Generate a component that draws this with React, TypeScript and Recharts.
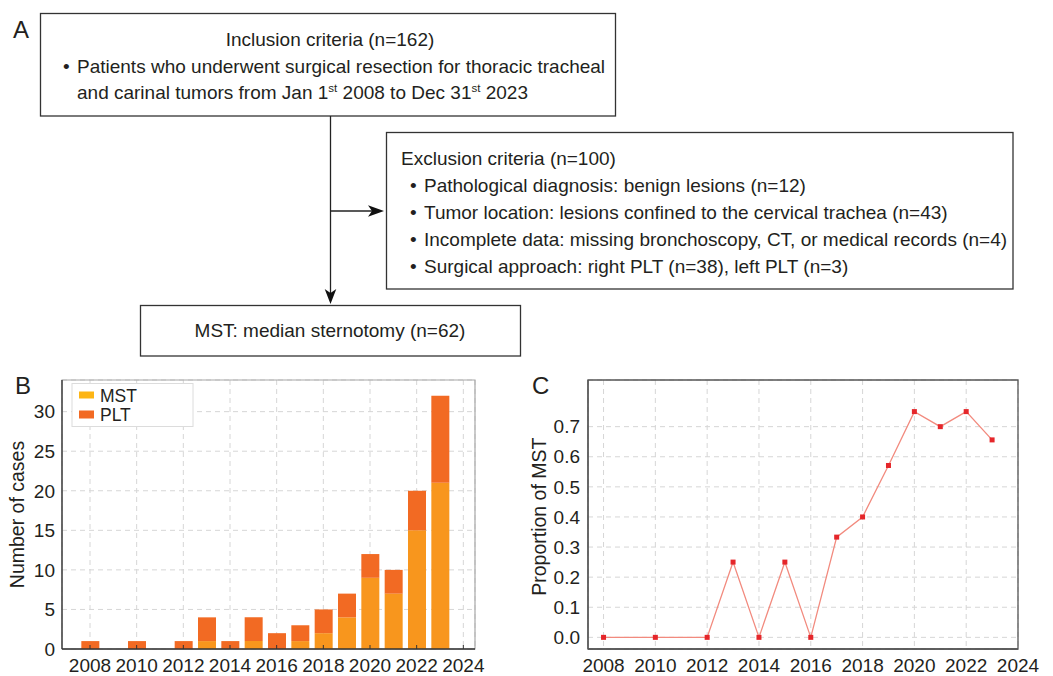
import React from "react";
import {
    BarChart,
    Bar,
    LineChart,
    Line,
    XAxis,
    YAxis,
    CartesianGrid,
    ReferenceArea,
} from "recharts";

// values
const years = [2008, 2010, 2012, 2013, 2014, 2015, 2016, 2017, 2018, 2019, 2020, 2021, 2022, 2023];
const mstCases = [0, 0, 0, 1, 0, 1, 0, 1, 2, 4, 9, 7, 15, 21];
const pltCases = [1, 1, 1, 3, 1, 3, 2, 2, 3, 3, 3, 3, 5, 11];
const mstProportion = [0, 0, 0, 0.25, 0, 0.25, 0, 0.333, 0.4, 0.571, 0.75, 0.7, 0.75, 0.656];

const yearTicks = [2008, 2010, 2012, 2014, 2016, 2018, 2020, 2022, 2024];
const caseTicks = [0, 5, 10, 15, 20, 25, 30];
const proportionTicks = [0, 0.1, 0.2, 0.3, 0.4, 0.5, 0.6, 0.7];
const seriesNames = ["MST", "PLT"];

const exclusionItems = [
    "Pathological diagnosis: benign lesions (n=12)",
    "Tumor location: lesions confined to the cervical trachea (n=43)",
    "Incomplete data: missing bronchoscopy, CT, or medical records (n=4)",
    "Surgical approach: right PLT (n=38), left PLT (n=3)",
];

const FONT = '"Liberation Sans", Arial, Helvetica, sans-serif';
const INK = "#231f20";
const MST_COLOR = "#f8961d";
const MST_LEGEND = "#fdb515";
const PLT_COLOR = "#f26a23";
const TICK_SIZE = 19;
const BOX_TEXT = 19;

const caseData = years.map((year, i) => ({ year, mst: mstCases[i], plt: pltCases[i] }));
const propData = years.map((year, i) => ({ year, proportion: mstProportion[i] }));

const B_X: [number, number] = [2006.8, 2024.5];
const B_Y: [number, number] = [0, 34];
const C_X: [number, number] = [2007.4, 2024];
const C_Y: [number, number] = [-0.0387, 0.855];

function yearTick(props: any, withMark: boolean) {
    const { x, y, payload } = props;
    return (
        <g>
            {withMark && <line x1={x} x2={x} y1={y - 4} y2={y} stroke="#333" strokeWidth={1} />}
            <text x={x} y={y + 23} textAnchor="middle" fontSize={TICK_SIZE} fill={INK} fontFamily={FONT}>
                {payload.value}
            </text>
        </g>
    );
}

function squareDot(props: any) {
    const { cx, cy, index } = props;
    return <rect key={"d" + index} x={cx - 2.5} y={cy - 2.5} width={5} height={5} fill="#e5262a" />;
}

function CasesChart() {
    return (
        <BarChart
            width={500}
            height={306}
            data={caseData}
            margin={{ top: 10, right: 25, left: 22, bottom: 0 }}
            barSize={18}
        >
            <CartesianGrid stroke="#d6d6d6" strokeDasharray="5 4" />
            <ReferenceArea
                x1={B_X[0]}
                x2={B_X[1]}
                y1={B_Y[0]}
                y2={B_Y[1]}
                fill="none"
                stroke="#a8a8a8"
                strokeWidth={1.2}
                ifOverflow="visible"
            />
            <XAxis
                type="number"
                dataKey="year"
                domain={B_X}
                ticks={yearTicks}
                interval={0}
                allowDataOverflow
                height={27}
                tickSize={0}
                tickMargin={0}
                tickLine={false}
                axisLine={{ stroke: "#333", strokeWidth: 1.3 }}
                tick={(p: any) => yearTick(p, true)}
            />
            <YAxis
                domain={B_Y}
                ticks={caseTicks}
                interval={0}
                allowDataOverflow
                width={40}
                tickSize={0}
                tickMargin={7}
                tickLine={false}
                axisLine={{ stroke: "#333", strokeWidth: 1.3 }}
                tick={{ fontSize: TICK_SIZE, fill: INK, fontFamily: FONT }}
            />
            <Bar dataKey="mst" name={seriesNames[0]} stackId="a" fill={MST_COLOR} isAnimationActive={false} />
            <Bar dataKey="plt" name={seriesNames[1]} stackId="a" fill={PLT_COLOR} isAnimationActive={false} />
        </BarChart>
    );
}

function ProportionChart() {
    return (
        <LineChart
            width={533}
            height={306}
            data={propData}
            margin={{ top: 10, right: 35, left: 18, bottom: 0 }}
        >
            <CartesianGrid stroke="#d6d6d6" strokeDasharray="5 4" />
            <ReferenceArea
                x1={C_X[0]}
                x2={C_X[1]}
                y1={C_Y[0]}
                y2={C_Y[1]}
                fill="none"
                stroke="#555"
                strokeWidth={1.3}
                ifOverflow="visible"
            />
            <XAxis
                type="number"
                dataKey="year"
                domain={C_X}
                ticks={yearTicks}
                interval={0}
                allowDataOverflow
                height={27}
                tickSize={0}
                tickMargin={0}
                tickLine={false}
                axisLine={{ stroke: "#555", strokeWidth: 1.3 }}
                tick={(p: any) => yearTick(p, false)}
            />
            <YAxis
                domain={C_Y}
                ticks={proportionTicks}
                interval={0}
                allowDataOverflow
                width={50}
                tickSize={0}
                tickMargin={8}
                tickLine={false}
                axisLine={{ stroke: "#555", strokeWidth: 1.3 }}
                tickFormatter={(v: number) => v.toFixed(1)}
                tick={{ fontSize: TICK_SIZE, fill: INK, fontFamily: FONT }}
            />
            <Line
                dataKey="proportion"
                stroke="#f28a7e"
                strokeWidth={1.3}
                dot={squareDot}
                activeDot={false}
                isAnimationActive={false}
            />
        </LineChart>
    );
}

function Flowchart() {
    const box = { fill: "none", stroke: "#333", strokeWidth: 1.3 };
    return (
        <g fontFamily={FONT} fontSize={BOX_TEXT} fill={INK}>
            {/* inclusion */}
            <rect x={40.5} y={13.5} width={575} height={102.5} {...box} />
            <text x={330} y={46} textAnchor="middle">Inclusion criteria (n=162)</text>
            <text x={63} y={73}>•</text>
            <text x={77} y={73}>Patients who underwent surgical resection for thoracic tracheal</text>
            <text x={77} y={99}>
                and carinal tumors from Jan 1
                <tspan dy={-7.5} fontSize={11.5}>st</tspan>
                <tspan dy={7.5}> 2008 to Dec 31</tspan>
                <tspan dy={-7.5} fontSize={11.5}>st</tspan>
                <tspan dy={7.5}> 2023</tspan>
            </text>

            {/* connectors */}
            <line x1={330.5} x2={330.5} y1={116} y2={294} stroke="#222" strokeWidth={1.3} />
            <polygon points="330.5,304 324.7,289 330.5,293 336.3,289" fill="#111" />
            <line x1={330.5} x2={374} y1={211} y2={211} stroke="#222" strokeWidth={1.3} />
            <polygon points="384,211 368,205.2 372,211 368,216.8" fill="#111" />

            {/* exclusion */}
            <rect x={386.5} y={132.5} width={626.5} height={156.5} {...box} />
            <text x={401} y={165}>Exclusion criteria (n=100)</text>
            {exclusionItems.map((t, i) => (
                <g key={t}>
                    <text x={410} y={192 + i * 27}>•</text>
                    <text x={424} y={192 + i * 27}>{t}</text>
                </g>
            ))}

            {/* result */}
            <rect x={140.5} y={305.5} width={380} height={50.5} {...box} />
            <text x={330} y={337} textAnchor="middle">MST: median sternotomy (n=62)</text>
        </g>
    );
}

export default function App() {
    return (
        <div
            style={{
                position: "fixed",
                left: 0,
                top: 0,
                width: 1053,
                height: 676,
                background: "#fff",
                fontFamily: FONT,
                overflow: "hidden",
            }}
        >
            <div style={{ position: "absolute", left: 0, top: 370 }}>
                <CasesChart />
            </div>
            <div style={{ position: "absolute", left: 520, top: 370 }}>
                <ProportionChart />
            </div>
            <svg
                width={1053}
                height={676}
                style={{ position: "absolute", left: 0, top: 0, pointerEvents: "none" }}
            >
                <Flowchart />

                {/* panel letters */}
                <g fontFamily={FONT} fontSize={24} fill={INK}>
                    <text x={13} y={38}>A</text>
                    <text x={15} y={394}>B</text>
                    <text x={532} y={394}>C</text>
                </g>

                {/* axis titles */}
                <text
                    transform="translate(24,514.5) rotate(-90)"
                    textAnchor="middle"
                    fontFamily={FONT}
                    fontSize={19.5}
                    fill={INK}
                >
                    Number of cases
                </text>
                <text
                    transform="translate(545.5,516.7) rotate(-90)"
                    textAnchor="middle"
                    fontFamily={FONT}
                    fontSize={19.5}
                    fill={INK}
                >
                    Proportion of MST
                </text>

                {/* legend for panel B */}
                <g fontFamily={FONT} fontSize={17.5} fill={INK}>
                    <rect x={72} y={383.5} width={121} height={43} fill="#fff" stroke="#dcdcdc" />
                    <rect x={79} y={391.5} width={15} height={7} fill={MST_LEGEND} />
                    <text x={100} y={401.5}>{seriesNames[0]}</text>
                    <rect x={79} y={410.5} width={15} height={8} fill={PLT_COLOR} />
                    <text x={100} y={420.5}>{seriesNames[1]}</text>
                </g>
            </svg>
        </div>
    );
}
